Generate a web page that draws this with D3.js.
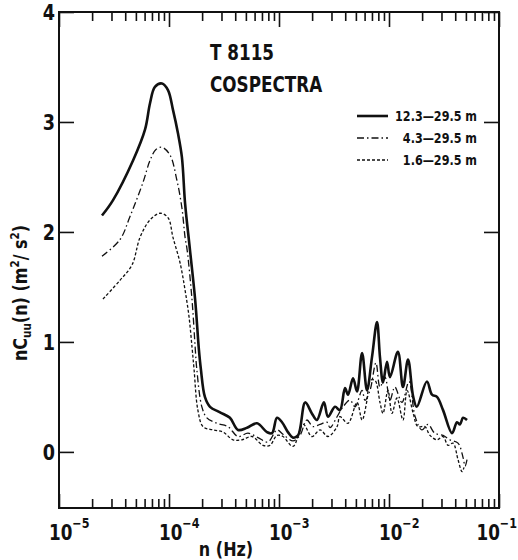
<!DOCTYPE html>
<html>
<head>
<meta charset="utf-8">
<script src="https://cdn.jsdelivr.net/npm/d3@7"></script>
<style>
  body { margin: 0; background: #fff; }
  svg text { font-family: 'DejaVu Sans', sans-serif; font-weight: bold; fill: #111; }
</style>
</head>
<body>
<div class="chart"></div>
<script>
"use strict";

// Cospectra: [frequency n (Hz), n*Cuu(n) (m2/s2)]
var cosp123 = [
    [2.46e-5, 2.15], [3.10e-5, 2.29], [4.71e-5, 2.65], [6.05e-5, 2.93], [6.72e-5, 3.17],
    [7.45e-5, 3.32], [8.64e-5, 3.35], [9.79e-5, 3.29], [1.087e-4, 3.11], [1.205e-4, 2.90],
    [1.31e-4, 2.68], [1.40e-4, 2.26], [1.55e-4, 1.84], [1.73e-4, 1.38], [1.87e-4, 0.93],
    [1.95e-4, 0.75], [2.12e-4, 0.50], [2.36e-4, 0.41], [2.91e-4, 0.36], [3.58e-4, 0.31],
    [4.24e-4, 0.20], [5.12e-4, 0.22], [6.31e-4, 0.26], [7.78e-4, 0.18], [8.64e-4, 0.17],
    [9.59e-4, 0.31], [1.065e-3, 0.27], [1.205e-3, 0.18], [1.34e-3, 0.13], [1.49e-3, 0.15],
    [1.73e-3, 0.45], [1.99e-3, 0.35], [2.21e-3, 0.29], [2.56e-3, 0.45], [2.79e-3, 0.32],
    [3.23e-3, 0.41], [3.58e-3, 0.38], [3.98e-3, 0.58], [4.24e-3, 0.52], [4.71e-3, 0.67],
    [5.12e-3, 0.55], [5.69e-3, 0.90], [6.31e-3, 0.56], [7.00e-3, 0.86], [7.78e-3, 1.18],
    [8.28e-3, 0.86], [8.82e-3, 0.63], [9.59e-3, 0.82], [1.021e-2, 0.68], [1.205e-2, 0.91],
    [1.34e-2, 0.59], [1.49e-2, 0.84], [1.66e-2, 0.50], [1.79e-2, 0.41], [2.21e-2, 0.64],
    [2.46e-2, 0.52], [2.73e-2, 0.50], [3.10e-2, 0.38], [3.74e-2, 0.17], [4.15e-2, 0.27],
    [4.42e-2, 0.25], [4.71e-2, 0.31], [5.12e-2, 0.29]
]

var cosp43 = [
    [2.46e-5, 1.78], [3.58e-5, 1.93], [4.42e-5, 2.14], [5.80e-5, 2.45], [6.72e-5, 2.65],
    [7.61e-5, 2.75], [8.64e-5, 2.77], [1.021e-4, 2.70], [1.18e-4, 2.47], [1.31e-4, 2.22],
    [1.40e-4, 1.95], [1.46e-4, 1.84], [1.62e-4, 1.38], [1.73e-4, 0.95], [1.79e-4, 0.75],
    [1.99e-4, 0.41], [2.21e-4, 0.31], [2.73e-4, 0.26], [3.44e-4, 0.23], [4.24e-4, 0.14],
    [5.23e-4, 0.17], [6.44e-4, 0.13], [7.94e-4, 0.09], [9.59e-4, 0.20], [1.087e-3, 0.16],
    [1.34e-3, 0.10], [1.55e-3, 0.15], [1.79e-3, 0.29], [2.04e-3, 0.23], [2.36e-3, 0.25],
    [2.73e-3, 0.27], [2.91e-3, 0.22], [3.37e-3, 0.32], [3.82e-3, 0.41], [4.42e-3, 0.47],
    [4.91e-3, 0.41], [5.69e-3, 0.56], [6.05e-3, 0.47], [6.72e-3, 0.56], [7.61e-3, 0.81],
    [8.28e-3, 0.59], [9.19e-3, 0.68], [1.021e-2, 0.47], [1.13e-2, 0.59], [1.31e-2, 0.45],
    [1.52e-2, 0.64], [1.73e-2, 0.32], [1.99e-2, 0.20], [2.26e-2, 0.25], [2.61e-2, 0.17],
    [3.10e-2, 0.15], [3.58e-2, 0.11], [4.24e-2, 0.08], [4.71e-2, -0.05], [4.91e-2, -0.13],
    [5.12e-2, -0.07]
]

var cosp16 = [
    [2.51e-5, 1.39], [3.58e-5, 1.56], [4.61e-5, 1.70], [5.45e-5, 1.95], [6.72e-5, 2.11],
    [8.28e-5, 2.17], [9.79e-5, 2.13], [1.087e-4, 1.95], [1.26e-4, 1.72], [1.40e-4, 1.47],
    [1.52e-4, 1.23], [1.62e-4, 0.95], [1.69e-4, 0.75], [1.83e-4, 0.38], [2.04e-4, 0.23],
    [2.51e-4, 0.20], [3.10e-4, 0.18], [3.82e-4, 0.11], [4.61e-4, 0.11], [5.69e-4, 0.14],
    [7.15e-4, 0.06], [8.28e-4, 0.06], [9.59e-4, 0.15], [1.087e-3, 0.14], [1.34e-3, 0.05],
    [1.66e-3, 0.25], [1.99e-3, 0.14], [2.36e-3, 0.20], [2.79e-3, 0.14], [3.37e-3, 0.23],
    [3.58e-3, 0.32], [4.24e-3, 0.26], [5.12e-3, 0.45], [5.69e-3, 0.29], [6.31e-3, 0.47],
    [6.72e-3, 0.65], [7.45e-3, 0.65], [8.28e-3, 0.45], [8.82e-3, 0.35], [9.79e-3, 0.56],
    [1.065e-2, 0.35], [1.18e-2, 0.49], [1.34e-2, 0.29], [1.46e-2, 0.56], [1.66e-2, 0.35],
    [1.83e-2, 0.23], [2.12e-2, 0.23], [2.36e-2, 0.15], [2.73e-2, 0.11], [3.10e-2, 0.14],
    [3.44e-2, 0.06], [3.82e-2, 0.08], [4.24e-2, -0.07], [4.61e-2, -0.18], [4.81e-2, -0.14]
]

var seriesLabels = ['12.3\u201429.5 m', '4.3\u201429.5 m', '1.6\u201429.5 m']
var freqTicks = [1e-5, 1e-4, 1e-3, 1e-2, 1e-1]
var freqExponents = ['\u22125', '\u22124', '\u22123', '\u22122', '\u22121']
var valueTicks = [0, 1, 2, 3, 4]

var width = 518
var height = 560
var plotLeft = 59, plotRight = 499, plotTop = 12, plotBottom = 508
var squeeze = 0.8 // the original lettering is a condensed face

var svg = d3.select('div.chart').append('svg')
    .attr('width', width)
    .attr('height', height)

svg.append('rect')
    .attr('width', width)
    .attr('height', height)
    .attr('fill', '#fff')

// Text placed at (px, py), squeezed horizontally
function narrowText(px, py, size, extra) {
    return svg.append('g')
        .attr('transform', 'translate(' + px + ',' + py + ')' + (extra || '') + ' scale(' + squeeze + ',1)')
        .append('text')
        .attr('font-size', size)
}

var x = d3.scaleLog()
    .domain([1e-5, 1e-1])
    .range([plotLeft, plotRight])

var y = d3.scaleLinear()
    .domain([-0.51, 4])
    .range([plotBottom, plotTop])

// Minor log ticks (2..9 in every decade), drawn without labels
var minorTicks = x.ticks().filter(d => freqTicks.indexOf(d) < 0)

svg.append('g')
    .attr('transform', 'translate(0,' + plotBottom + ')')
    .call(d3.axisBottom(x).tickValues(minorTicks).tickSize(-9).tickFormat(''))
svg.append('g')
    .attr('transform', 'translate(0,' + plotBottom + ')')
    .call(d3.axisBottom(x).tickValues(freqTicks).tickSize(-14).tickFormat(''))
svg.append('g')
    .attr('transform', 'translate(0,' + plotTop + ')')
    .call(d3.axisTop(x).tickValues(minorTicks).tickSize(-9).tickFormat(''))
svg.append('g')
    .attr('transform', 'translate(0,' + plotTop + ')')
    .call(d3.axisTop(x).tickValues(freqTicks).tickSize(-15).tickFormat(''))

// Value ticks point inward on both sides
svg.append('g')
    .attr('transform', 'translate(' + plotLeft + ',0)')
    .call(d3.axisLeft(y).tickValues(valueTicks).tickSize(-15).tickFormat(''))
svg.append('g')
    .attr('transform', 'translate(' + plotRight + ',0)')
    .call(d3.axisRight(y).tickValues(valueTicks).tickSize(-15).tickFormat(''))

svg.selectAll('.domain').remove()
svg.selectAll('.tick line').attr('stroke', '#111').attr('stroke-width', 1.6)

// Frame
svg.append('rect')
    .attr('x', plotLeft)
    .attr('y', plotTop)
    .attr('width', plotRight - plotLeft)
    .attr('height', plotBottom - plotTop)
    .attr('fill', 'none')
    .attr('stroke', '#111')
    .attr('stroke-width', 2)

// Value labels
valueTicks.forEach(function (v) {
    narrowText(55, y(v), 22)
        .attr('text-anchor', 'end')
        .attr('dy', '0.36em')
        .text(v)
})

// Decade labels 10^k
freqTicks.forEach(function (d, i) {
    var t = narrowText(x(d) - 10, 540, 21)
    t.append('tspan').text('10')
    t.append('tspan')
        .attr('dy', -12)
        .attr('font-size', 14)
        .text(freqExponents[i])
    // keep the last label inside the picture
    var w = t.node().getComputedTextLength() * squeeze
    if (x(d) - 10 + w > width - 1) {
        d3.select(t.node().parentNode)
            .attr('transform', 'translate(' + (width - 1 - w) + ',540) scale(' + squeeze + ',1)')
    }
})

// Axis titles
narrowText(226, 556, 20)
    .attr('text-anchor', 'middle')
    .text('n (Hz)')

var ylab = narrowText(27, 293, 20, ' rotate(-90)')
    .attr('text-anchor', 'middle')
ylab.append('tspan').text('nC')
ylab.append('tspan').attr('font-size', 13).attr('dy', 4).text('uu')
ylab.append('tspan').attr('dy', -4).text('(n)  (m')
ylab.append('tspan').attr('font-size', 13).attr('dy', -8).text('2')
ylab.append('tspan').attr('dy', 8).text('/ s')
ylab.append('tspan').attr('font-size', 13).attr('dy', -8).text('2')
ylab.append('tspan').attr('dy', 8).text(')')

// Title
narrowText(210, 60, 21).text('T 8115')
narrowText(210, 92, 21).text('COSPECTRA')

// Curves
var line = d3.line()
    .x(d => x(d[0]))
    .y(d => y(d[1]))
    .curve(d3.curveCatmullRom.alpha(0.5))

var styles = [
    { data: cosp123, width: 2.6, dash: null },
    { data: cosp43, width: 1.3, dash: '7,3,1.5,3' },
    { data: cosp16, width: 1.3, dash: '3,2' }
]

styles.forEach(function (s) {
    svg.append('path')
        .datum(s.data)
        .attr('d', line)
        .attr('fill', 'none')
        .attr('stroke', '#111')
        .attr('stroke-width', s.width)
        .attr('stroke-dasharray', s.dash)
        .attr('stroke-linejoin', 'round')
})

// Legend
styles.forEach(function (s, i) {
    var ly = 116 + i * 22
    svg.append('line')
        .attr('x1', 357)
        .attr('x2', 388)
        .attr('y1', ly)
        .attr('y2', ly)
        .attr('stroke', '#111')
        .attr('stroke-width', s.width)
        .attr('stroke-dasharray', s.dash)
    narrowText(477, ly + 5, 14)
        .attr('text-anchor', 'end')
        .text(seriesLabels[i])
})
</script>
</body>
</html>
